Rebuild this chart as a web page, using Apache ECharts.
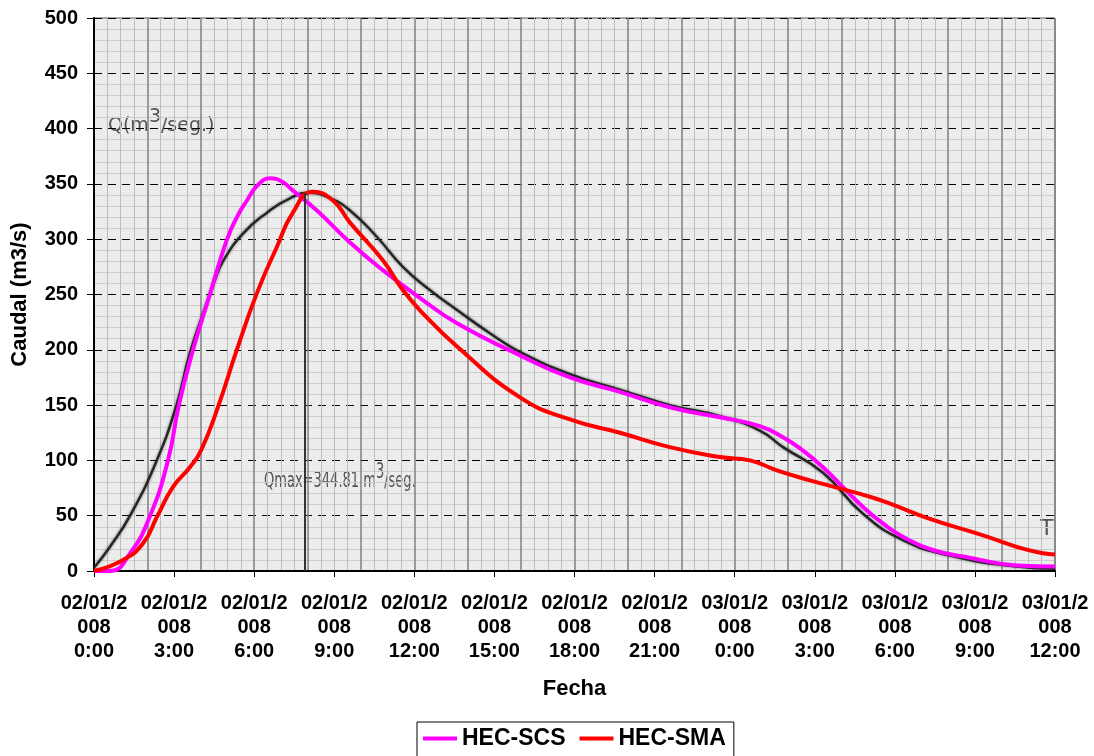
<!DOCTYPE html>
<html>
<head>
<meta charset="utf-8">
<script src="https://cdn.jsdelivr.net/npm/echarts@6/dist/echarts.min.js"></script>
<style>
html, body { margin: 0; padding: 0; background: #fff; }
#main { width: 1094px; height: 756px; }
</style>
</head>
<body>
<div id="main"></div>
<script>
// etiquetas del eje X (cada 3 horas)
var tickLabels = [
    '02/01/2\n008\n0:00', '02/01/2\n008\n3:00', '02/01/2\n008\n6:00',
    '02/01/2\n008\n9:00', '02/01/2\n008\n12:00', '02/01/2\n008\n15:00',
    '02/01/2\n008\n18:00', '02/01/2\n008\n21:00', '03/01/2\n008\n0:00',
    '03/01/2\n008\n3:00', '03/01/2\n008\n6:00', '03/01/2\n008\n9:00',
    '03/01/2\n008\n12:00'
];

// HEC-SCS (horas desde 02/01 0:00, caudal m3/s)
var scsHours = [0, 0.6, 1.35, 2.1, 2.77, 3.18, 3.71, 4.34, 4.97, 5.4, 5.73, 6.1, 6.59, 7.05, 7.45, 8.35,
    9.59, 10.82, 12.32, 13.6, 15.96, 17.83, 19.7, 21.57, 23.45, 24.94, 25.81, 26.55,
    27.3, 28.05, 28.8, 29.55, 30.3, 31.42, 32.81, 34.57, 36];
var scsFlow = [0, 0, 16, 50, 100, 150, 200, 250, 299, 322, 335, 348, 355, 352, 344, 326,
    297, 272, 245, 224, 195, 175, 162, 148, 139, 131, 121, 109,
    94, 76, 58, 43, 31, 19, 12, 5, 4];

// HEC-SMA
var smaHours = [0, 1.09, 1.84, 2.36, 2.96, 3.6, 4.01, 4.64, 5.35, 6.1, 6.85, 7.45, 8.2, 8.95,
    9.59, 10.82, 11.57, 12.32, 13.6, 15.96, 17.83, 19.7, 21.57, 23.45, 24.57, 25.58,
    26.82, 28.05, 28.95, 29.7, 31.2, 33.07, 35.54, 36];
var smaFlow = [0, 10, 25, 49, 76, 94, 109, 148, 200, 251, 293, 324, 343, 335,
    315, 281, 254, 233, 203, 157, 137, 125, 112, 103, 100, 91,
    82, 74, 68, 62, 48, 34, 16, 15];

// hidrograma original (escaneado)
var obsHours = [0, 0.6, 1.35, 2.35, 3.09, 3.59, 4.22, 4.53, 4.83, 5.58, 6.48, 7.34, 8.09, 8.84, 9.59,
    10.6, 11.57, 12.58, 13.6, 14.83, 15.96, 17.83, 19.7, 21.57, 23.45, 24.94, 25.81, 27.3,
    28.8, 30.3, 32.06, 34.57, 36];
var obsFlow = [3, 22, 50, 100, 150, 197, 242, 263, 280, 305, 324, 337, 342, 337, 326,
    302, 275, 254, 236, 215, 198, 178, 164, 150, 140, 127, 112, 89,
    52, 28, 14, 4, 2];

function toPairs(xs, ys) {
    var out = [];
    for (var i = 0; i < xs.length; i++) {
        out.push([xs[i], ys[i]]);
    }
    return out;
}

var boldFont = 'Liberation Sans, Arial, sans-serif';
var scanFont = 'DejaVu Sans, sans-serif';

var chart = echarts.init(document.getElementById('main'));
var option = {
    animation: false,
    grid: {
        left: 94,
        right: 39,
        top: 18,
        bottom: 185,
        show: true,
        backgroundColor: '#ececec',
        borderColor: '#555',
        borderWidth: 1
    },
    legend: {
        data: ['HEC-SCS', 'HEC-SMA'],
        left: 417,
        top: 722,
        icon: 'rect',
        itemWidth: 34,
        itemHeight: 4,
        itemGap: 14,
        padding: [5, 8, 10, 6],
        borderColor: '#000',
        borderWidth: 1,
        textStyle: {
            fontFamily: boldFont,
            fontWeight: 'bold',
            fontSize: 23,
            color: '#000'
        }
    },
    xAxis: [{
        type: 'value',
        min: 0,
        max: 36,
        interval: 3,
        name: 'Fecha',
        nameLocation: 'middle',
        nameGap: 107,
        nameTextStyle: {
            fontFamily: boldFont,
            fontWeight: 'bold',
            fontSize: 22,
            color: '#000'
        },
        axisLine: { lineStyle: { color: '#000', width: 2 } },
        axisTick: { show: true, length: 6, lineStyle: { color: '#000' } },
        splitLine: { show: false },
        axisLabel: {
            margin: 20,
            lineHeight: 24,
            fontFamily: boldFont,
            fontWeight: 'bold',
            fontSize: 20,
            color: '#000',
            formatter: function (v) {
                return tickLabels[Math.round(v / 3)];
            }
        }
    }, {
        // papel milimetrado del fondo
        type: 'value',
        min: 0,
        max: 36,
        interval: 2,
        position: 'top',
        axisLine: { show: false },
        axisTick: { show: false },
        axisLabel: { show: false },
        splitLine: { show: true, lineStyle: { color: '#808080', width: 1.5 } },
        minorSplitLine: { show: true, lineStyle: { color: '#bdbdbd', width: 1 } },
        minorTick: { splitNumber: 4 }
    }],
    yAxis: {
        type: 'value',
        min: 0,
        max: 500,
        interval: 50,
        name: 'Caudal (m3/s)',
        nameLocation: 'middle',
        nameGap: 63,
        nameTextStyle: {
            fontFamily: boldFont,
            fontWeight: 'bold',
            fontSize: 22,
            color: '#000'
        },
        axisLine: { show: true, lineStyle: { color: '#000', width: 2 } },
        axisTick: { show: true, length: 7, lineStyle: { color: '#000' } },
        axisLabel: {
            margin: 16,
            fontFamily: boldFont,
            fontWeight: 'bold',
            fontSize: 20,
            color: '#000'
        },
        splitLine: { show: true, lineStyle: { color: '#000', type: [8, 6], width: 1 } },
        minorTick: { splitNumber: 5 },
        minorSplitLine: { show: true, lineStyle: { color: '#cdcdcd', width: 1 } }
    },
    series: [{
        name: 'Original',
        type: 'line',
        smooth: 0.5,
        symbol: 'none',
        silent: true,
        z: 1,
        data: toPairs(obsHours, obsFlow),
        lineStyle: { color: '#262626', width: 2.5, shadowColor: 'rgba(0,0,0,0.5)', shadowBlur: 3 },
        markLine: {
            symbol: 'none',
            silent: true,
            label: { show: false },
            lineStyle: { color: '#333', width: 2, type: 'solid' },
            data: [[{ coord: [7.9, 0] }, { coord: [7.9, 342] }]]
        }
    }, {
        name: 'HEC-SCS',
        type: 'line',
        smooth: 0.5,
        symbol: 'none',
        z: 3,
        data: toPairs(scsHours, scsFlow),
        itemStyle: { color: '#ff00ff' },
        lineStyle: { color: '#ff00ff', width: 4 }
    }, {
        name: 'HEC-SMA',
        type: 'line',
        smooth: 0.5,
        symbol: 'none',
        z: 4,
        data: toPairs(smaHours, smaFlow),
        itemStyle: { color: '#ff0000' },
        lineStyle: { color: '#ff0000', width: 4 }
    }],
    graphic: [{
        type: 'text',
        left: 108,
        top: 108,
        style: {
            text: '{a|Q(m}{s|3}{a|/seg.)}',
            rich: {
                a: { fontFamily: scanFont, fontSize: 19, fill: '#555', padding: [8, 0, 0, 0] },
                s: { fontFamily: scanFont, fontSize: 19, fill: '#555', padding: [0, 0, 10, 0] }
            }
        }
    }, {
        type: 'text',
        x: 264,
        y: 462,
        scaleX: 0.62,
        style: {
            text: '{a|Qmax=344.81 m}{s|3}{a|/seg.}',
            rich: {
                a: { fontFamily: scanFont, fontSize: 21, fill: '#555', padding: [8, 0, 0, 0] },
                s: { fontFamily: scanFont, fontSize: 21, fill: '#555', padding: [0, 0, 10, 0] }
            }
        }
    }, {
        type: 'text',
        left: 1040,
        top: 518,
        style: { text: 'T', fontFamily: scanFont, fontSize: 22, fill: '#555' }
    }]
};
chart.setOption(option);
</script>
</body>
</html>
